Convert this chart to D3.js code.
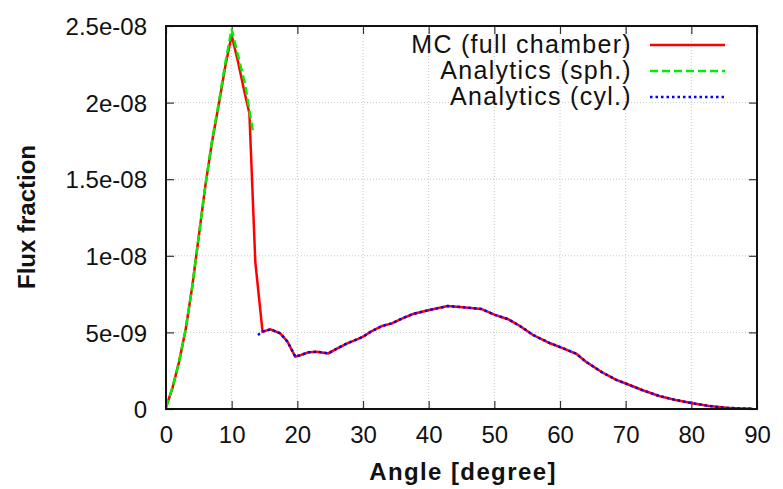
<!DOCTYPE html>
<head>
<meta charset="utf-8">
<style>
body { margin: 0; background: #fff; }
text { font-family: "Liberation Sans", Arial, sans-serif; }
</style>
</head>
<body>
<script src="https://d3js.org/d3.v7.min.js"></script>
<script>
// values, flux in units of 1e-9
var xTicks = [0, 10, 20, 30, 40, 50, 60, 70, 80, 90];
var yTicks = [0, 5e-9, 1e-8, 1.5e-8, 2e-8, 2.5e-8];
var yTickLabels = ["0", "5e-09", "1e-08", "1.5e-08", "2e-08", "2.5e-08"];

var mcAngle = [0, 1, 2, 3, 4, 5, 6, 7, 8, 9, 10, 11, 12, 12.7, 13.6, 14.7, 15.9, 17.4, 18.5, 19.7, 20.5, 21.7, 23, 24.7,
    26.1, 27.6, 29.1, 30, 31.2, 32.9, 34.4, 36, 37.6, 40.1, 42.9, 45.2, 48, 50.1, 52.1, 53.9, 55.9, 58.5, 60.5, 62.5,
    63.9, 66.4, 68.5, 70.2, 72.5, 75.1, 77.6, 80.2, 82.7, 85.3, 87.5, 89.3];
var mcFlux = [0.1, 1.4, 3.1, 5.2, 8.0, 11.3, 14.6, 17.4, 19.8, 22.3, 24.4, 22.6, 20.6, 19.3, 9.6, 5.05, 5.2, 4.94, 4.4, 3.41, 3.52, 3.70, 3.74, 3.63,
    3.96, 4.29, 4.55, 4.72, 5.05, 5.42, 5.59, 5.92, 6.2, 6.46, 6.72, 6.64, 6.53, 6.14, 5.86, 5.42, 4.83, 4.29, 3.96, 3.6,
    3.1, 2.4, 1.92, 1.63, 1.24, 0.85, 0.59, 0.37, 0.2, 0.08, 0.04, 0.02];

var sphAngle = [0, 1, 2, 3, 4, 5, 6, 7, 8, 9, 10, 11, 12, 13.2];
var sphFlux = [0.1, 1.4, 3.1, 5.2, 8.0, 11.3, 14.6, 17.5, 19.9, 22.5, 24.8, 23.0, 21.3, 18.2];

var cylAngle = [14.0, 14.7, 15.9, 17.4, 18.5, 19.7, 20.5, 21.7, 23, 24.7,
    26.1, 27.6, 29.1, 30, 31.2, 32.9, 34.4, 36, 37.6, 40.1, 42.9, 45.2, 48, 50.1, 52.1, 53.9, 55.9, 58.5, 60.5, 62.5,
    63.9, 66.4, 68.5, 70.2, 72.5, 75.1, 77.6, 80.2, 82.7, 85.3, 87.5, 89.3];
var cylFlux = [4.83, 5.05, 5.2, 4.94, 4.4, 3.41, 3.52, 3.70, 3.74, 3.63,
    3.96, 4.29, 4.55, 4.72, 5.05, 5.42, 5.59, 5.92, 6.2, 6.46, 6.72, 6.64, 6.53, 6.14, 5.86, 5.42, 4.83, 4.29, 3.96, 3.6,
    3.1, 2.4, 1.92, 1.63, 1.24, 0.85, 0.59, 0.37, 0.2, 0.08, 0.04, 0.02];

var legendNames = ["MC (full chamber)", "Analytics (sph.)", "Analytics (cyl.)"];

var W = 783, H = 489;
var pL = 166, pR = 757, pT = 26, pB = 409;

var svg = d3.select("body").append("svg")
    .attr("width", W)
    .attr("height", H);

var x = d3.scaleLinear().domain([0, 90]).range([pL, pR]);
var y = d3.scaleLinear().domain([0, 2.5e-8]).range([pB, pT]);

// grid
svg.selectAll(".gx").data(xTicks.slice(1, -1)).enter().append("line")
    .attr("x1", d => x(d)).attr("x2", d => x(d))
    .attr("y1", pT).attr("y2", pB)
    .attr("stroke", "#c8c8c8").attr("stroke-width", 1)
    .attr("stroke-dasharray", "1,2");
svg.selectAll(".gy").data(yTicks.slice(1, -1)).enter().append("line")
    .attr("x1", pL).attr("x2", pR)
    .attr("y1", d => y(d)).attr("y2", d => y(d))
    .attr("stroke", "#c8c8c8").attr("stroke-width", 1)
    .attr("stroke-dasharray", "1,2");

// axes with inward ticks, mirrored
function axis(a, tr) {
    var g = svg.append("g").attr("transform", tr).call(a);
    g.select(".domain").remove();
    g.selectAll(".tick line").attr("stroke", "#333").attr("stroke-width", 1.2);
    return g;
}
var gb = axis(d3.axisBottom(x).tickValues(xTicks).tickSize(-8), "translate(0," + pB + ")");
gb.selectAll("text").attr("font-size", 24).attr("fill", "#111")
    .attr("font-family", "Liberation Sans, Arial, sans-serif")
    .attr("y", 34).attr("dy", null);
axis(d3.axisTop(x).tickValues(xTicks).tickSize(-8).tickFormat(""), "translate(0," + pT + ")");
var gl = axis(d3.axisLeft(y).tickValues(yTicks).tickSize(-8)
    .tickFormat((d, i) => yTickLabels[i]), "translate(" + pL + ",0)");
gl.selectAll("text").attr("font-size", 24).attr("fill", "#111")
    .attr("font-family", "Liberation Sans, Arial, sans-serif")
    .attr("x", -19).attr("dy", "0.36em");
axis(d3.axisRight(y).tickValues(yTicks).tickSize(-8).tickFormat(""), "translate(" + pR + ",0)");

// data lines
var line = d3.line().x(d => x(d[0])).y(d => y(d[1] * 1e-9));
var series = [
    { a: mcAngle, f: mcFlux, c: "#ff0000", dash: null },
    { a: sphAngle, f: sphFlux, c: "#00ee00", dash: "8,4" },
    { a: cylAngle, f: cylFlux, c: "#0000ff", dash: "2.5,3" }
];
series.forEach(function (s) {
    svg.append("path")
        .attr("d", line(d3.zip(s.a, s.f)))
        .attr("fill", "none")
        .attr("stroke", s.c)
        .attr("stroke-width", 2.5)
        .attr("stroke-dasharray", s.dash);
});

// frame
svg.append("rect")
    .attr("x", pL).attr("y", pT)
    .attr("width", pR - pL).attr("height", pB - pT)
    .attr("fill", "none").attr("stroke", "#111").attr("stroke-width", 2);

// legend
legendNames.forEach(function (n, i) {
    var ly = 45 + i * 26;
    svg.append("text")
        .attr("x", 632).attr("y", ly + 8)
        .attr("text-anchor", "end")
        .attr("font-size", 25).attr("letter-spacing", 1.3).attr("fill", "#111")
        .text(n);
    svg.append("line")
        .attr("x1", 650).attr("x2", 725)
        .attr("y1", ly).attr("y2", ly)
        .attr("stroke", series[i].c).attr("stroke-width", 2.5)
        .attr("stroke-dasharray", series[i].dash);
});

// axis titles
svg.append("text")
    .attr("x", 463).attr("y", 480)
    .attr("text-anchor", "middle")
    .attr("font-size", 24).attr("font-weight", "bold").attr("letter-spacing", 1.4).attr("fill", "#111")
    .text("Angle [degree]");
svg.append("text")
    .attr("transform", "translate(35,217) rotate(-90)")
    .attr("text-anchor", "middle")
    .attr("font-size", 24).attr("font-weight", "bold").attr("fill", "#111")
    .text("Flux fraction");
</script>
</body>
